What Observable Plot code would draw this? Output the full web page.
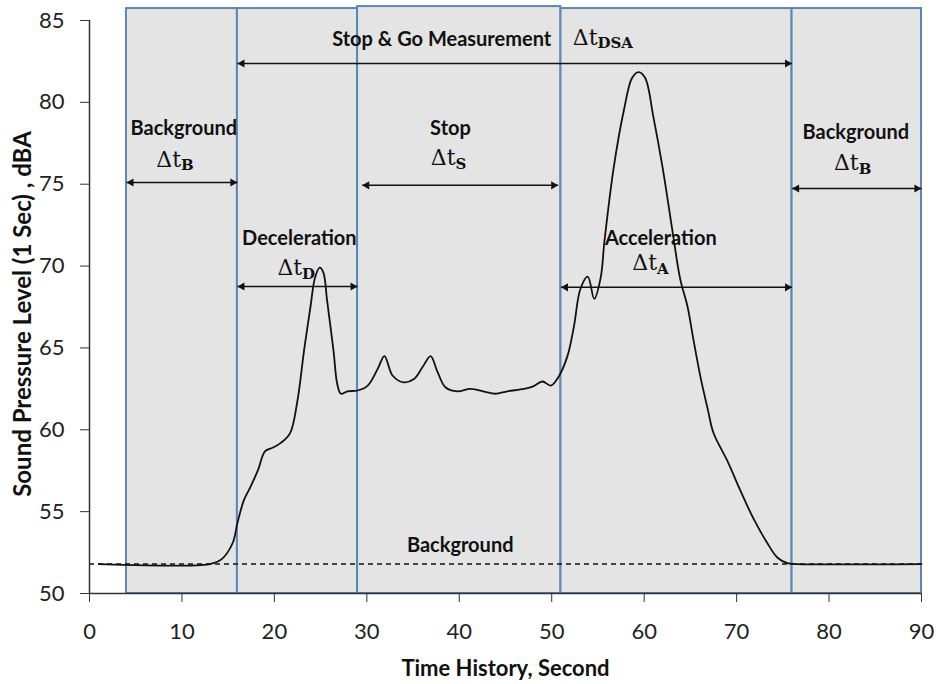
<!DOCTYPE html>
<html><head><meta charset="utf-8">
<script src="https://cdn.jsdelivr.net/npm/d3@7"></script>
<script src="https://cdn.jsdelivr.net/npm/@observablehq/plot@0.6"></script>
<style>body{margin:0;background:#fff}</style>
</head><body><div id="chart"></div>
<script>
// Sound pressure level trace (time s, dBA)
const timeS = [1,13,14.3,15.5,16.0,16.7,17.4,18.2,19.0,19.8,20.7,21.7,22.5,23.2,23.9,24.4,24.9,25.3,25.7,26.4,26.8,27.2,27.9,29.0,30.1,31.2,31.9,32.8,34.0,35.1,36.1,36.9,37.6,38.5,39.8,41.2,42.6,43.9,45.2,47.0,48.0,49.0,49.9,50.7,51.7,52.4,53.1,53.9,54.6,55.3,55.7,56.7,57.8,58.7,59.4,60.1,61.0,62.0,63.1,63.9,64.7,65.3,66.1,66.9,67.5,69.0,70.4,71.8,73.3,74.4,75.5,76.5,90];
const splDBA = [51.8,51.8,52.1,53.1,54.3,55.7,56.5,57.5,58.7,58.9,59.2,59.8,61.8,64.8,67.5,69.3,69.9,69.6,67.9,64.8,62.8,62.2,62.35,62.4,62.7,63.75,64.5,63.3,62.9,63.1,63.9,64.5,63.6,62.6,62.35,62.5,62.35,62.2,62.35,62.5,62.65,62.95,62.7,63.2,64.5,66.3,68.6,69.35,68.0,69.3,71.5,76.0,79.5,81.5,81.85,81.5,79.1,76.0,72.0,69.2,67.5,65.6,63.2,61.2,59.8,58.1,56.3,54.6,53.1,52.2,51.85,51.8,51.8];
const backgroundLevel = 51.8;

// Shaded phase windows (seconds)
const boxStart = [4, 16, 29, 51, 76];
const boxEnd = [16, 29, 51, 76, 90];
const boxTop = [85.73, 85.73, 85.85, 85.73, 85.73];

// Duration arrows
const arrowStart = [4, 16, 29.5, 51, 76, 16];
const arrowEnd = [16, 29, 50.7, 76, 90, 76];
const arrowLevel = [75.1, 68.75, 74.93, 68.7, 74.74, 82.37];

// Phase labels
const labelText = ["Background", "Deceleration", "Stop", "Acceleration", "Background", "Stop & Go Measurement", "Background"];
const labelX = [10.2, 22.7, 39.05, 61.8, 82.9, 38.1, 40.1];
const labelY = [78.4, 71.7, 78.4, 71.7, 78.16, 83.84, 52.95];

// Δt symbols with subscripts
const deltaSub = ["B", "D", "S", "A", "B", "DSA"];
const deltaX = [9.9, 23.0, 39.6, 61.4, 83.2, 54.95];
const deltaY = [76.5, 69.86, 76.6, 70.2, 76.27, 83.96];

const xTicks = [0, 10, 20, 30, 40, 50, 60, 70, 80, 90];
const yTicks = [50, 55, 60, 65, 70, 75, 80, 85];
const xTitle = "Time History, Second";
const yTitle = "Sound Pressure Level (1 Sec) , dBA";

const trace = timeS.map((t, i) => ({t, v: splDBA[i]}));
const boxes = boxStart.map((s, i) => ({x1: s, x2: boxEnd[i], top: boxTop[i]}));
const arrows = arrowStart.map((s, i) => ({x1: s, x2: arrowEnd[i], y: arrowLevel[i]}));
const labels = labelText.map((s, i) => ({s, x: labelX[i], y: labelY[i]}));
const deltas = deltaSub.map((s, i) => ({s, x: deltaX[i], y: deltaY[i]}));

const ink = "#111";
const chart = Plot.plot({
  width: 936, height: 684,
  marginLeft: 89, marginRight: 15, marginTop: 20, marginBottom: 91,
  x: {domain: [0, 90], axis: null},
  y: {domain: [50, 85], axis: null},
  style: {fontFamily: "Lato, sans-serif", fontSize: "22px", color: "#222", background: "#fff"},
  marks: [
    Plot.rect(boxes, {x1: "x1", x2: "x2", y1: 50, y2: "top", fill: "#e4e4e4", stroke: "#5b86b6", strokeWidth: 2}),
    Plot.ruleY([backgroundLevel], {x1: 0, x2: 90, stroke: ink, strokeWidth: 1.5, strokeDasharray: "5,4"}),
    Plot.line(trace, {x: "t", y: "v", curve: "catmull-rom", stroke: ink, strokeWidth: 1.8}),
    Plot.link(arrows, {x1: "x1", x2: "x2", y1: "y", y2: "y", stroke: ink, strokeWidth: 1.5}),
    Plot.dot(arrows, {x: "x1", y: "y", symbol: "triangle", rotate: -90, r: 3, fill: ink, stroke: null, dx: 4.7}),
    Plot.dot(arrows, {x: "x2", y: "y", symbol: "triangle", rotate: 90, r: 3, fill: ink, stroke: null, dx: -4.7}),
    Plot.text(labels, {x: "x", y: "y", text: "s", fontWeight: "bold", fontSize: 20, fill: ink}),
    Plot.text(deltas, {x: "x", y: "y", text: () => "Δt", textAnchor: "end", fontFamily: "DejaVu Serif", fontSize: 22, fill: ink}),
    Plot.text(deltas, {x: "x", y: "y", text: "s", textAnchor: "start", dy: 6, fontFamily: "DejaVu Serif", fontWeight: "bold", fontSize: 15, fill: ink}),
    Plot.ruleY([50], {x1: 0, x2: 90, stroke: "#333", strokeWidth: 1.5}),
    Plot.ruleX([0], {y1: 50, y2: 85, stroke: "#333", strokeWidth: 1.5}),
    Plot.axisX({ticks: xTicks, tickSize: 9, tickPadding: 21, label: null, stroke: "#333", fill: "#222"}),
    Plot.axisY({ticks: yTicks, tickSize: 9, tickPadding: 16, label: null, stroke: "#333", fill: "#222"}),
    Plot.text([xTitle], {frameAnchor: "bottom", textAnchor: "middle", lineAnchor: "middle", dy: 75, fontWeight: "bold", fontSize: 22, fill: "#111"}),
    Plot.text([yTitle], {frameAnchor: "left", textAnchor: "middle", lineAnchor: "middle", rotate: -90, dx: -66, dy: 7, fontWeight: "bold", fontSize: 24, fill: "#111"})
  ]
});
document.getElementById("chart").appendChild(chart);
</script>
</body></html>
